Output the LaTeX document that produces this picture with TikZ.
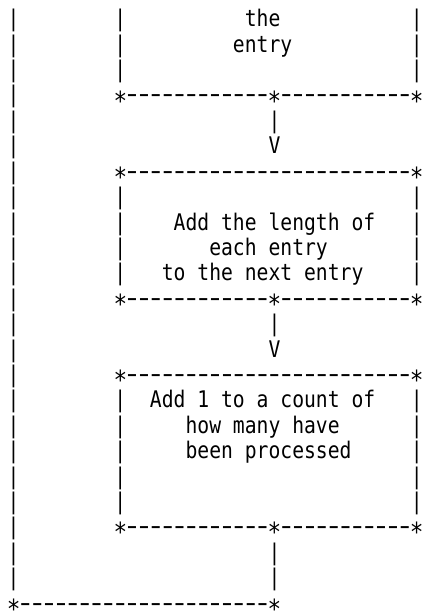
\documentclass[tikz,border=0pt]{standalone}
\usepackage{fontspec}
\usepackage{tikz}
\newfontfamily\chartfont[FakeStretch=0.86]{DejaVu Sans Mono}
\newcommand{\corner}{\makebox[11.857pt][c]{\raisebox{-0.31em}{\scalebox{1.15}{*}}}}
\newcommand{\dashes}[1]{\foreach \k in {1,...,#1}{\makebox[11.857pt][c]{\scalebox{1.6}[1.1]{-}}}}

\begin{document}
\begin{tikzpicture}[x = 11.857pt, y = -25.4pt,
	every node/.style = {font = \chartfont\fontsize{22.9}{25.4}\selectfont, inner sep = 0, anchor = base west}]
		\useasboundingbox (-7.5pt, 1.4pt) rectangle (416.5pt, -610.6pt);
		% loop back line on the left
		\foreach \r in {1,...,23}
			\node (back\r) at (0, \r) {|};
		\node (backend) at (0, 24) {\corner\dashes{21}\corner};
		% first box
		\foreach \r in {1,...,3} {
			\node (firstl\r) at (9, \r) {|};
			\node (firstr\r) at (34, \r) {|};
		}
		\node (firsta) at (20, 1) {the};
		\node (firstb) at (19, 2) {entry};
		\node (firstbot) at (9, 4) {\corner\dashes{12}\corner\dashes{11}\corner};
		\node (arrowa) at (22, 5) {|};
		\node (heada) at (22, 6) {V};
		% second box
		\node (secondtop) at (9, 7) {\corner\dashes{24}\corner};
		\foreach \r in {8,...,11} {
			\node (secondl\r) at (9, \r) {|};
			\node (secondr\r) at (34, \r) {|};
		}
		\node (seconda) at (14, 9) {Add the length of};
		\node (secondb) at (17, 10) {each entry};
		\node (secondc) at (13, 11) {to the next entry};
		\node (secondbot) at (9, 12) {\corner\dashes{12}\corner\dashes{11}\corner};
		\node (arrowb) at (22, 13) {|};
		\node (headb) at (22, 14) {V};
		% third box
		\node (thirdtop) at (9, 15) {\corner\dashes{24}\corner};
		\foreach \r in {16,...,20} {
			\node (thirdl\r) at (9, \r) {|};
			\node (thirdr\r) at (34, \r) {|};
		}
		\node (thirda) at (12, 16) {Add 1 to a count of};
		\node (thirdb) at (15, 17) {how many have};
		\node (thirdc) at (15, 18) {been processed};
		\node (thirdbot) at (9, 21) {\corner\dashes{12}\corner\dashes{11}\corner};
		\foreach \r in {22, 23}
			\node (tail\r) at (22, \r) {|};
\end{tikzpicture}
\end{document}
